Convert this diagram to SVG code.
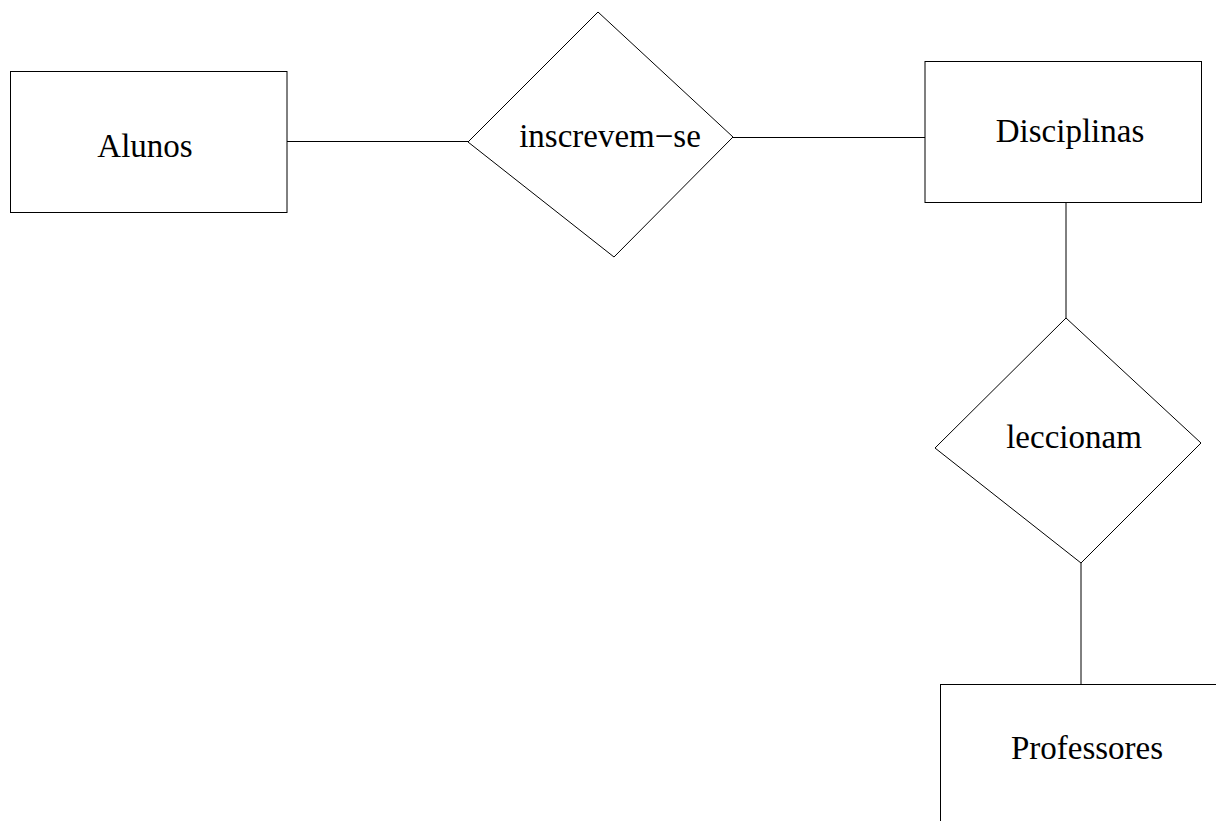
<svg xmlns="http://www.w3.org/2000/svg" width="1216" height="821" viewBox="0 0 1216 821">
<style>
.shape{fill:#fff;stroke:#000;stroke-width:1}
.conn{fill:none;stroke:#000;stroke-width:1}
.lbl{font-family:"Liberation Serif","Times New Roman",serif;font-size:33px;fill:#000;text-anchor:middle}
</style>
<rect width="1216" height="821" fill="#fff"/>
<g id="connectors">
<line class="conn" x1="287" y1="141.5" x2="468" y2="141.5"/>
<line class="conn" x1="733" y1="137.5" x2="925" y2="137.5"/>
<line class="conn" x1="1066" y1="203" x2="1066" y2="318"/>
<line class="conn" x1="1081" y1="563" x2="1081" y2="684.5"/>
</g>
<g id="alunos">
<rect class="shape" x="10.5" y="71.5" width="276.5" height="141"/>
<text class="lbl" x="145" y="157">Alunos</text>
</g>
<g id="inscrevem-se">
<polygon class="shape" points="598,12 733,137 614,257 468,142"/>
<text class="lbl" x="610" y="147">inscrevem−se</text>
</g>
<g id="disciplinas">
<rect class="shape" x="925" y="61.5" width="276.5" height="141"/>
<text class="lbl" x="1070" y="142">Disciplinas</text>
</g>
<g id="leccionam">
<polygon class="shape" points="1066,318 1201,443 1081,563 935,448"/>
<text class="lbl" x="1074" y="448">leccionam</text>
</g>
<g id="professores">
<rect class="shape" x="940.5" y="684.5" width="280" height="150"/>
<text class="lbl" x="1087" y="759">Professores</text>
</g>
</svg>
